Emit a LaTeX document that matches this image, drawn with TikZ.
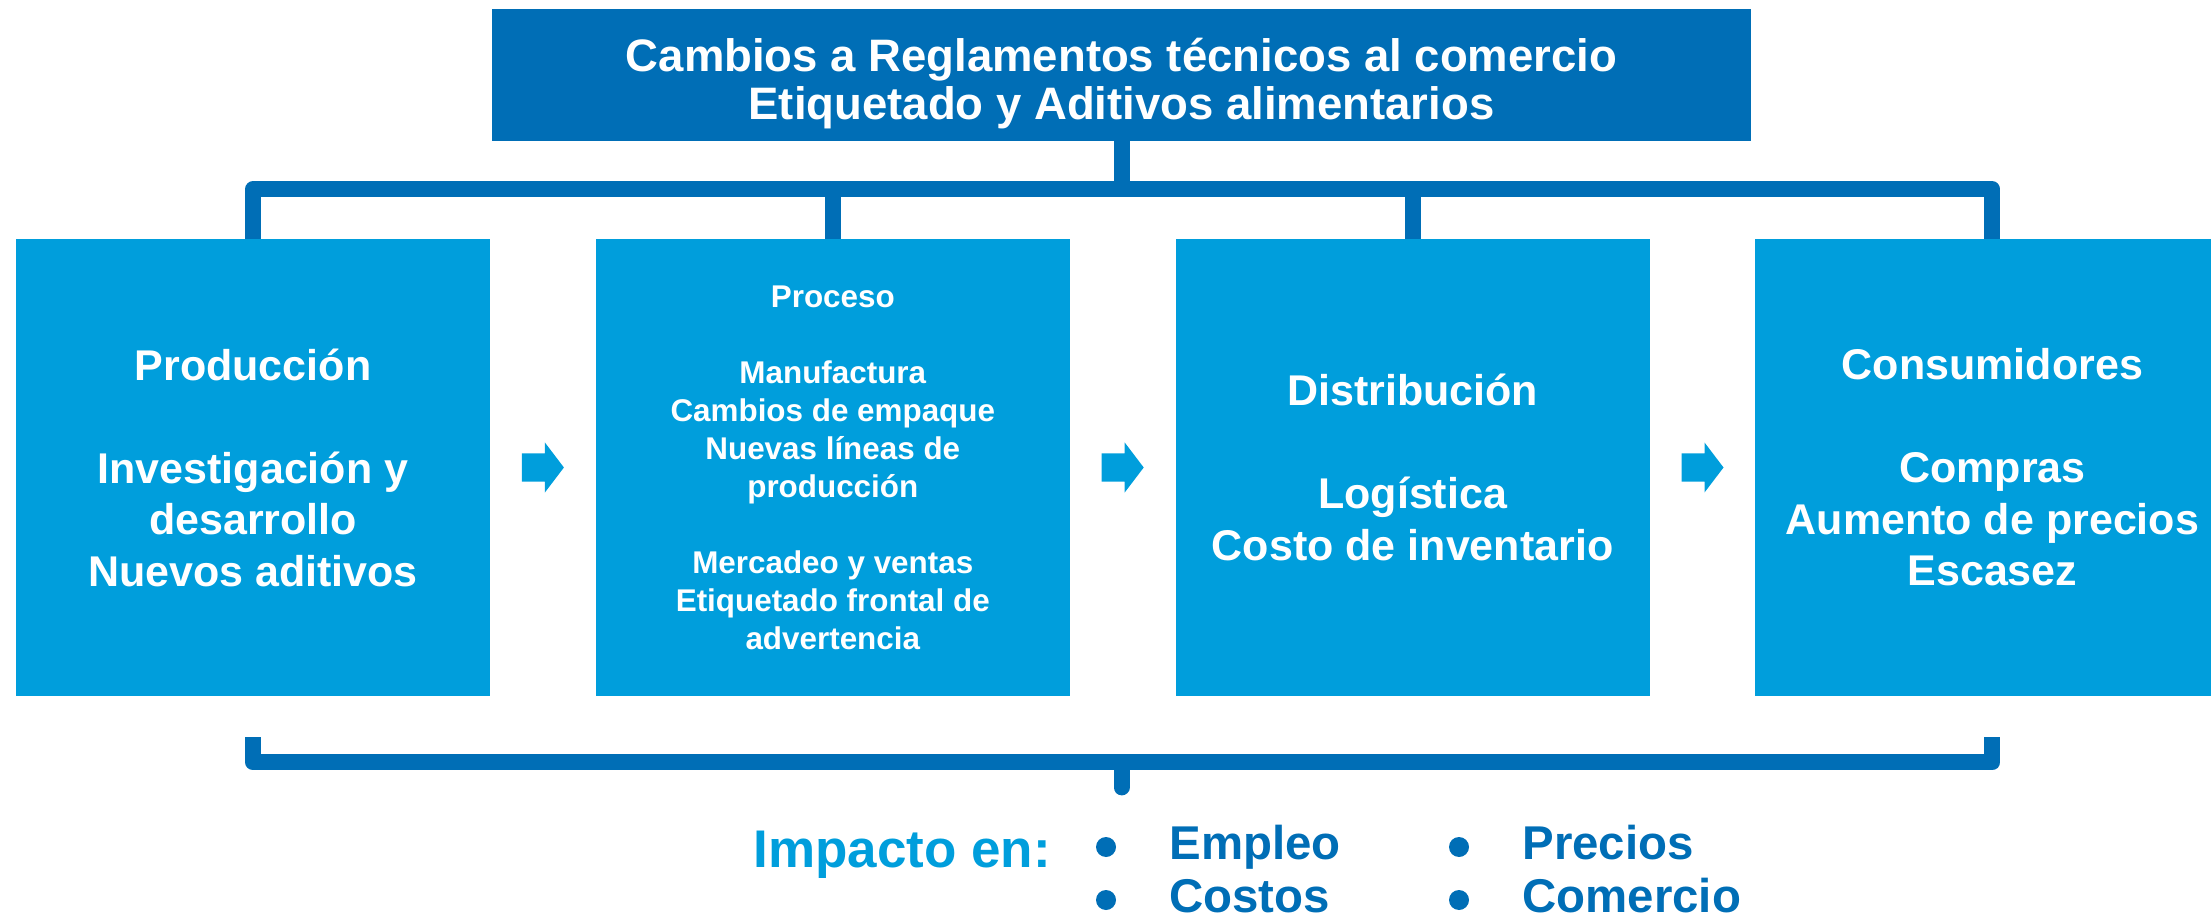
\documentclass[tikz,border=0pt]{standalone}
\usepackage{fontspec}
\setmainfont{Liberation Sans}
\usetikzlibrary{positioning,calc}
\definecolor{darkblue}{RGB}{0,110,182}
\definecolor{lightblue}{RGB}{0,158,220}
\begin{document}
\begin{tikzpicture}[x=0.5pt,y=-0.5pt,
  box/.style={fill=lightblue, text=white, align=center, inner sep=0pt, minimum width=237pt, minimum height=228.5pt, font=\bfseries\fontsize{21.5}{25.75}\selectfont},
  bracket/.style={draw=darkblue, line width=8pt, line join=round},
  item/.style={anchor=base west, inner sep=0pt, text=darkblue, font=\bfseries\fontsize{23.7}{28}\selectfont}]
\useasboundingbox (0,0) rectangle (2211,919);
\clip (0,0) rectangle (2211,919);
\node[fill=darkblue, text=white, align=center, inner sep=0pt, minimum width=629.5pt, minimum height=66pt, font=\bfseries\fontsize{22.75}{24}\selectfont] (title) at (1121.5,75) {\rule{0pt}{25pt}Cambios a Reglamentos técnicos al comercio\\Etiquetado y Aditivos alimentarios};
\node[box] (prod) at (253,467.5) {Producción\\[25.75pt]Investigación y\\desarrollo\\Nuevos aditivos};
\node[box, right=52.5pt of prod, font=\bfseries\fontsize{15.7}{19}\selectfont] (proc) {Proceso\\[19pt]Manufactura\\Cambios de empaque\\Nuevas líneas de\\producción\\[19pt]Mercadeo y ventas\\Etiquetado frontal de\\advertencia};
\node[box, right=52.5pt of proc] (dist) {Distribución\\[25.75pt]Logística\\Costo de inventario};
\node[box, right=52.5pt of dist] (cons) {Consumidores\\[25.75pt]Compras\\Aumento de precios\\Escasez};
% arrows between the boxes
\foreach \a/\b in {prod/proc,proc/dist,dist/cons} \fill[lightblue] ($(\a.east)!0.5!(\b.west)$) ++(-21,-14) -- ++(23,0) -- ++(0,-11) -- ++(19,25) -- ++(-19,25) -- ++(0,-11) -- ++(-23,0) -- cycle;
% top bracket
\coordinate (topbar) at ($(title.south)+(0,48)$);
\draw[bracket] (title.south) -- (topbar);
\draw[bracket] (prod.north) |- (topbar) -| (cons.north);
\foreach \n in {proc,dist} \draw[bracket] (\n.north) -- (\n.north |- topbar);
% bottom bracket
\coordinate (botbar) at ($(title.south |- prod.south)+(0,66)$);
\coordinate (hookL) at ($(prod.south)+(0,41)$);
\coordinate (hookR) at ($(cons.south)+(0,41)$);
\draw[bracket] (hookL) |- (botbar) -| (hookR);
\draw[bracket, line cap=round] (botbar) -- ++(0,25);
% impact list
\node[anchor=base west, inner sep=0pt, text=lightblue, font=\bfseries\fontsize{26.5}{30}\selectfont] (impacto) at (753,867) {Impacto en:};
\node[item] (empleo) at (1169,859) {Empleo};
\node[item] (costos) at (1169,912) {Costos};
\node[item] (precios) at (1522,859) {Precios};
\node[item] (comercio) at (1522,912) {Comercio};
\foreach \n in {empleo,costos,precios,comercio} \fill[darkblue] ($(\n.base west)+(-63,-12)$) circle (5pt);
\end{tikzpicture}
\end{document}
